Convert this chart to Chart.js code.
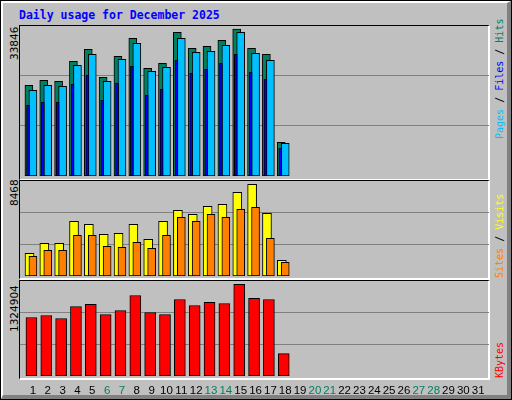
<!DOCTYPE html>
<html><head><meta charset="utf-8">
<script src="https://cdn.jsdelivr.net/npm/chart.js@4"></script>
<style>
html,body{margin:0;padding:0;}
body{width:512px;height:400px;position:relative;overflow:hidden;background:#000;font-family:"DejaVu Sans Mono",monospace;}
#bg{position:absolute;left:1px;top:1px;width:504px;height:392px;background:#C0C0C0;border-top:2px solid #fff;border-left:2px solid #fff;border-right:4px solid #808080;border-bottom:4px solid #808080;}
.frame{position:absolute;left:19px;width:471px;border-top:1px solid #000;border-left:1px solid #000;border-right:2px solid #fff;border-bottom:2px solid #fff;box-sizing:border-box;}
.cv{position:absolute;left:20px;}
#title{position:absolute;left:19px;top:8px;color:#0000FF;font:bold 11.5px "DejaVu Sans Mono",monospace;}
.vl{position:absolute;transform-origin:0 0;transform:rotate(-90deg);white-space:nowrap;font:10px "DejaVu Sans Mono",monospace;}
.mx{position:absolute;transform-origin:0 0;transform:rotate(-90deg);white-space:nowrap;font:10.5px "DejaVu Sans",sans-serif;color:#000;}
</style></head><body>
<div id="bg"></div>
<div id="title">Daily usage for December 2025</div>
<div class="frame" style="top:25px;height:156px"></div>
<div class="frame" style="top:180px;height:100px"></div>
<div class="frame" style="top:280px;height:100px"></div>
<canvas id="c1" class="cv" style="top:25px"></canvas>
<canvas id="c2" class="cv" style="top:181px"></canvas>
<canvas id="c3" class="cv" style="top:280px"></canvas>
<div class="vl" style="left:494px;top:139px"><span style="color:#00C0FF">Pages</span> / <span style="color:#0000FF">Files</span> / <span style="color:#008060">Hits</span></div>
<div class="vl" style="left:494px;top:278px"><span style="color:#FF8000">Sites</span> / <span style="color:#FFFF00">Visits</span></div>
<div class="vl" style="left:494px;top:378px"><span style="color:#FF0000">KBytes</span></div>
<div id="m1" class="mx" style="left:8px;top:60px"></div>
<div id="m2" class="mx" style="left:8px;top:206px"></div>
<div id="m3" class="mx" style="left:8px;top:332px"></div>
<script>
const days = Array.from({length:31},(_,i)=>i+1);
const weekendDays = [6,7,13,14,20,21,27,28];
const hits   = [20900,22060,21830,26440,29200,22750,27590,31740,24820,25980,33120,29430,29900,31280,33846,29430,28050,7770];
const pages  = [19750,20910,20680,25520,28050,21830,26900,30590,24130,25060,31740,28510,28740,30130,33120,28280,26670,7540];
const files  = [16300,16990,16990,21140,23210,17450,21370,25290,18600,19980,26670,23670,24590,25980,28050,23900,22290,6380];
const visits = [2100,3020,3020,5050,4770,3850,3940,4770,3390,5050,6070,5700,6440,6620,7730,8468,5790,1450];
const sites  = [1820,2370,2370,3760,3760,2740,2650,3110,2560,3760,5420,5050,5700,5420,6160,6340,3480,1270];
const kbytes = [846000,875000,832000,1006000,1035000,890000,948000,1165000,918000,890000,1107000,1020000,1064000,1049000,1324904,1122000,1107000,324000];

document.getElementById('m1').textContent = Math.max(...hits);
document.getElementById('m2').textContent = Math.max(...visits);
document.getElementById('m3').textContent = Math.max(...kbytes);

function pts(arr, off){ return arr.map((v,i)=>({x:days[i]+off,y:v})); }
function ds(arr, off, color, w, order){ return {data:pts(arr,off),backgroundColor:color,borderColor:'#000',borderWidth:1,barThickness:w,grouped:false,borderSkipped:false,order}; }

function make(id, w, h, datasets, ymax, showX){
  const c = document.getElementById(id);
  c.width = w; c.height = h; c.style.width = w+'px'; c.style.height = h+'px';
  new Chart(c, {
    type:'bar',
    data:{datasets},
    options:{
      responsive:false, animation:false, devicePixelRatio:1,
      layout:{padding:0},
      plugins:{legend:{display:false},tooltip:{enabled:false}},
      scales:{
        x:{type:'linear',min:0.13,max:31.73,display:showX,offset:false,
           grid:{display:false},border:{display:false},
           afterBuildTicks:s=>{s.ticks=days.map(d=>({value:d}));},
           afterFit:s=>{s.height=showX?18:0;},
           ticks:{autoSkip:false,maxRotation:0,padding:0,font:{family:'Liberation Sans',size:11.5},
             color:ctx=>weekendDays.includes(ctx.tick.value)?'#008060':'#000'}},
        y:{min:0,max:ymax,display:true,
           grid:{color:'#808080',lineWidth:1,drawTicks:false},border:{display:false},
           ticks:{display:false},
           afterFit:s=>{s.width=0;},
           afterBuildTicks:s=>{s.ticks=[{value:ymax/3},{value:2*ymax/3}];}}
      }
    }
  });
}
make('c1',469,151,[ds(hits,-0.27,'#008060',8,3),ds(pages,0,'#00C0FF',8,2),ds(files,-0.33,'#0000FF',3,1)],34800,false);
make('c2',469,95,[ds(visits,-0.23,'#FFFF00',9,2),ds(sites,0,'#FF8000',8,1)],8773,false);
make('c3',469,114,[ds(kbytes,-0.1,'#FF0000',11,1)],1388700,true);
</script>
</body></html>
